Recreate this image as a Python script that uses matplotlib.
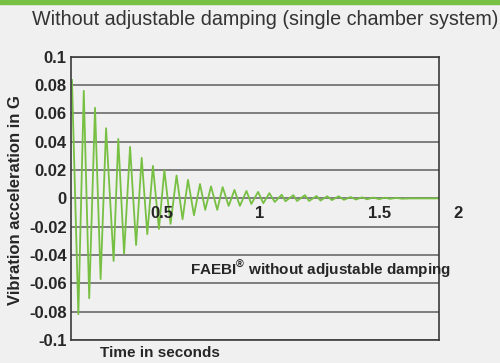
import numpy as np
import matplotlib
matplotlib.use('Agg')
import matplotlib.pyplot as plt
from matplotlib import font_manager
from matplotlib.patches import Rectangle

# peaks and troughs of the damped oscillation (time in s, acceleration in G)
peak_times = [0.005, 0.066, 0.124, 0.181, 0.244, 0.305, 0.365, 0.423, 0.482, 0.545,
              0.604, 0.666, 0.723, 0.783, 0.844, 0.906, 0.966, 1.024, 1.088, 1.148,
              1.208, 1.268, 1.323, 1.382, 1.444, 1.503, 1.562, 1.621, 1.680]
peak_vals = [0.0837, 0.076, 0.064, 0.0496, 0.042, 0.0364, 0.0286, 0.023, 0.020, 0.0162,
             0.0131, 0.0102, 0.0085, 0.008, 0.006, 0.0053, 0.0046, 0.0037, 0.0026, 0.0023,
             0.0023, 0.0017, 0.0015, 0.0015, 0.0010, 0.0008, 0.0006, 0.0005, 0.0004]
trough_times = [0.038, 0.094, 0.153, 0.220, 0.274, 0.336, 0.394, 0.454, 0.514, 0.576,
                0.635, 0.693, 0.755, 0.814, 0.872, 0.931, 0.993, 1.052, 1.107, 1.167,
                1.229, 1.288, 1.347, 1.409, 1.471, 1.528, 1.590, 1.647, 1.709]
trough_vals = [-0.0818, -0.0705, -0.057, -0.0442, -0.039, -0.0329, -0.0253, -0.0216, -0.018, -0.0147,
               -0.0119, -0.0081, -0.0081, -0.0053, -0.0053, -0.0039, -0.0034, -0.0025, -0.002, -0.0018,
               -0.0018, -0.0015, -0.0012, -0.001, -0.0008, -0.0006, -0.0005, -0.0003, -0.0002]
tail_times = [1.75, 1.9]
tail_vals = [0.0, 0.0]

y_ticks = [0.1, 0.08, 0.06, 0.04, 0.02, 0, -0.02, -0.04, -0.06, -0.08, -0.1]
y_tick_labels = ['0.1', '0.08', '0.06', '0.04', '0.02', '0', '-0.02', '-0.04', '-0.06', '-0.08', '-0.1']
x_tick_pos = [0.467, 0.972, 1.595, 2.0]
x_tick_labels = ['0.5', '1', '1.5', '2']

available = {f.name for f in font_manager.fontManager.ttflist}
narrow = 'Liberation Sans Narrow' if 'Liberation Sans Narrow' in available else 'Liberation Sans'
plt.rcParams['font.family'] = [narrow, 'DejaVu Sans']
plt.rcParams['mathtext.fontset'] = 'custom'
plt.rcParams['mathtext.rm'] = narrow + ':bold'
plt.rcParams['mathtext.bf'] = narrow + ':bold'

bg = '#eff0ef'
green = '#78c043'
dark = '#262626'

t = np.empty(len(peak_times) + len(trough_times))
a = np.empty_like(t)
t[0::2], t[1::2] = peak_times, trough_times
a[0::2], a[1::2] = peak_vals, trough_vals
t = np.concatenate([t, tail_times])
a = np.concatenate([a, tail_vals])

fig = plt.figure(figsize=(5, 3.63), dpi=100, facecolor=bg)
ax = fig.add_axes([0.142, 0.0634, 0.736, 0.78], facecolor=bg)

fig.patches.append(Rectangle((0, 1 - 4 / 363), 1, 4 / 363, transform=fig.transFigure,
                             color=green, zorder=0))

for y in y_ticks:
    ax.axhline(y, color='#5e5e5e', lw=1.1, zorder=1)
ax.plot(t, a, color=green, lw=1.3, zorder=2)

ax.set_xlim(0, 1.9)
ax.set_ylim(-0.1, 0.1)
ax.set_xticks([])
ax.set_yticks(y_ticks)
ax.set_yticklabels(y_tick_labels, fontsize=12, fontweight='bold', color=dark)
ax.tick_params(axis='y', length=0, pad=3)
for s in ax.spines.values():
    s.set_color('#3a3a3a')
    s.set_linewidth(1.2)

for xp, lab in zip(x_tick_pos, x_tick_labels):
    ax.text(xp, -0.011, lab, ha='center', va='center', fontsize=12,
            fontweight='bold', color=dark, clip_on=False)

ax.text(0.615, -0.05, 'FAEBI$^{®}$ without adjustable damping', ha='left', va='center',
        fontsize=11, fontweight='bold', color=dark, clip_on=False)

fig.text(0.032, 0.45, 'Vibration acceleration in G', rotation=90, ha='center', va='center',
         fontsize=12, fontweight='bold', color=dark)
fig.text(0.2, 0.027, 'Time in seconds', ha='left', va='center',
         fontsize=11, fontweight='bold', color=dark)
fig.text(0.996, 0.945, 'Without adjustable damping (single chamber system)', ha='right',
         va='center', fontsize=14.2, color='#333333')

fig.savefig('out.png', dpi=100, facecolor=bg)
